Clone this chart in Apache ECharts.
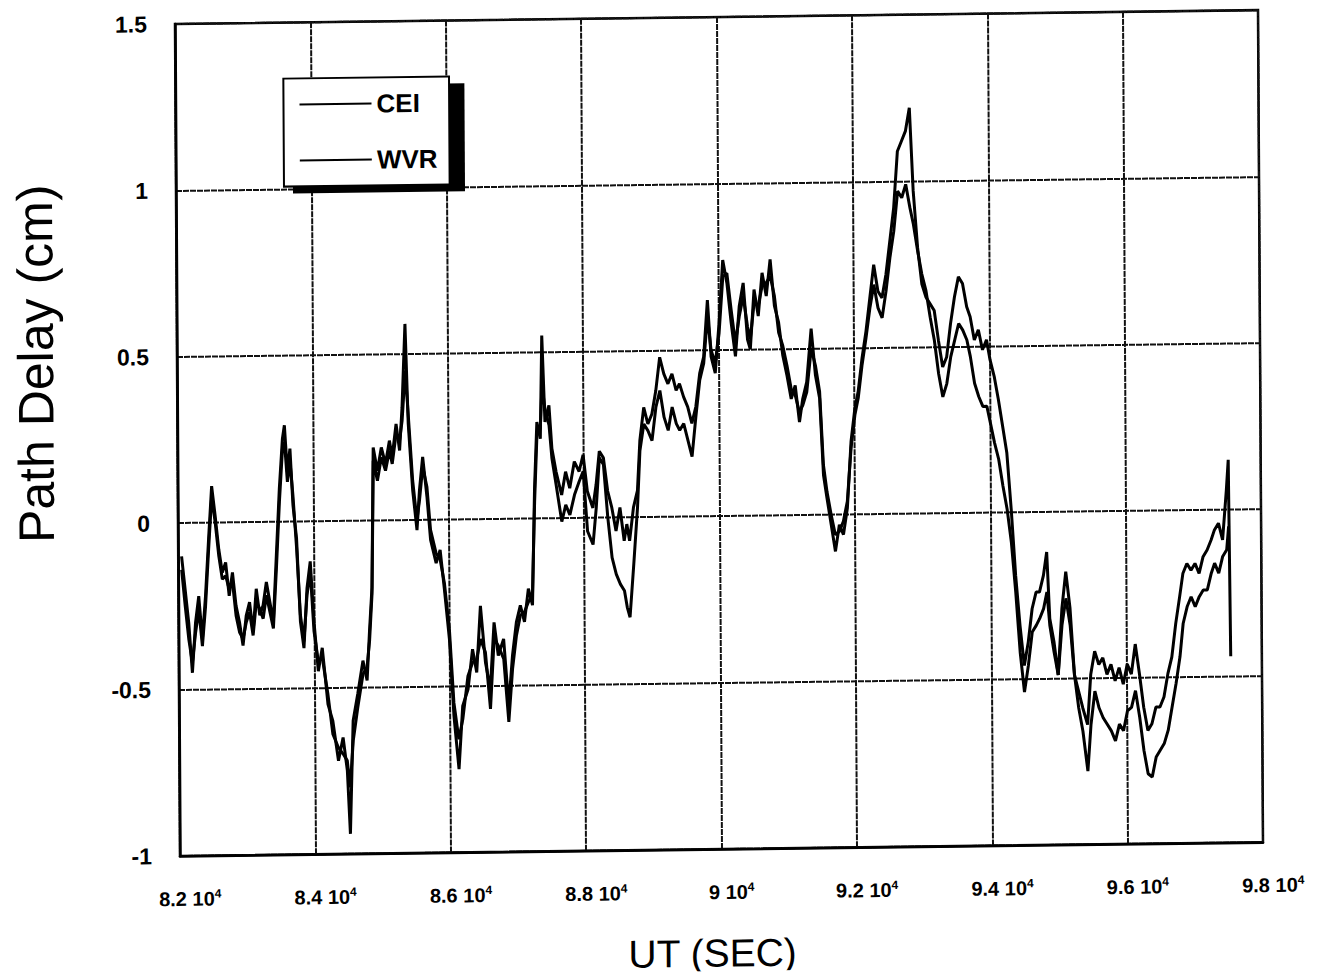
<!DOCTYPE html>
<html><head><meta charset="utf-8">
<script src="https://cdn.jsdelivr.net/npm/echarts@6/dist/echarts.min.js"></script>
<style>
html,body{margin:0;padding:0;background:#fff;overflow:hidden}
#wrap{width:1317px;height:978px;transform-origin:178px 524px;transform:matrix(1,-0.0128,0.006,1,0,0)}
#chart{width:1317px;height:978px}
</style></head><body><div id="wrap"><div id="chart"></div></div>
<script>
// UT seconds
const times = [82050,82100,82150,82200,82250,82300,82350,82400,82450,82500,82550,82600,82650,82700,82750,82800,82850,82900,82950,83000,
83050,83100,83150,83200,83250,83300,83350,83400,83450,83500,83550,83580,83620,83660,83700,83750,83800,83850,83900,83950,
84000,84060,84120,84200,84270,84350,84420,84480,84520,84570,84640,84720,84780,84820,84860,84890,84950,85010,85070,85130,
85170,85230,85280,85320,85370,85410,85470,85530,85570,85620,85680,85730,85810,85870,85930,86000,86060,86130,86190,86270,
86340,86400,86460,86530,86600,86660,86720,86800,86870,86930,86990,87050,87110,87170,87230,87270,87310,87360,87390,87430,
87490,87530,87590,87670,87730,87790,87860,87930,87990,88050,88130,88180,88230,88290,88350,88410,88470,88530,88590,88630,
88670,88730,88790,88830,88890,88950,89010,89070,89130,89190,89250,89310,89370,89420,89480,89540,89600,89660,89720,89780,
89840,89890,89950,90010,90070,90130,90190,90250,90310,90370,90430,90470,90530,90590,90650,90710,90770,90830,90890,90950,
91010,91070,91130,91190,91240,91300,91370,91430,91490,91540,91590,91650,91710,91770,91830,91890,91950,92010,92060,92120,
92180,92240,92300,92360,92420,92480,92540,92600,92660,92720,92780,92840,92890,92950,93010,93070,93130,93190,93250,93310,
93370,93430,93490,93550,93610,93670,93720,93780,93840,93900,93960,94010,94070,94130,94190,94250,94310,94370,94430,94490,
94550,94610,94670,94720,94780,94830,94870,94930,94990,95050,95110,95170,95230,95290,95350,95420,95470,95530,95590,95650,
95710,95770,95830,95890,95950,96010,96070,96130,96190,96250,96310,96370,96430,96490,96550,96610,96670,96730,96790,96840,
96900,96960,97020,97080,97140,97200,97260,97310,97370,97430,97490,97520,97540];

// path delay (cm)
const cei = [-0.10,-0.20,-0.30,-0.45,-0.30,-0.22,-0.35,-0.22,-0.05,0.11,0.02,-0.08,-0.15,-0.12,-0.22,-0.15,-0.25,-0.30,-0.37,-0.28,
-0.24,-0.33,-0.20,-0.28,-0.25,-0.18,-0.24,-0.30,-0.10,0.10,0.25,0.29,0.15,0.22,0.05,-0.05,-0.30,-0.38,-0.20,-0.12,
-0.30,-0.45,-0.38,-0.55,-0.60,-0.72,-0.65,-0.75,-0.94,-0.60,-0.52,-0.42,-0.48,-0.33,-0.20,0.22,0.15,0.22,0.17,0.24,
0.19,0.29,0.21,0.34,0.59,0.29,0.09,-0.03,0.09,0.19,0.07,-0.06,-0.13,-0.09,-0.21,-0.36,-0.59,-0.75,-0.56,-0.51,
-0.39,-0.46,-0.26,-0.43,-0.51,-0.31,-0.41,-0.36,-0.56,-0.41,-0.31,-0.26,-0.31,-0.21,-0.26,0.09,0.29,0.24,0.55,0.29,
0.34,0.21,0.14,0.07,0.14,0.09,0.17,0.14,0.19,0.08,0.03,0.10,0.20,0.18,0.08,0.03,-0.04,0.03,-0.07,-0.02,
-0.07,0.03,0.08,0.23,0.33,0.28,0.31,0.38,0.48,0.43,0.40,0.43,0.38,0.40,0.36,0.33,0.28,0.33,0.43,0.48,
0.65,0.48,0.43,0.58,0.77,0.70,0.58,0.48,0.63,0.70,0.53,0.50,0.68,0.60,0.73,0.66,0.77,0.63,0.58,0.48,
0.42,0.35,0.39,0.28,0.35,0.40,0.56,0.42,0.35,0.12,0.05,-0.03,-0.11,-0.03,-0.06,0.02,0.22,0.32,0.37,0.47,
0.55,0.65,0.75,0.67,0.65,0.72,0.82,0.92,1.09,1.12,1.15,1.22,0.97,0.80,0.69,0.65,0.63,0.61,0.52,0.44,
0.47,0.57,0.65,0.71,0.69,0.62,0.59,0.52,0.55,0.49,0.52,0.46,0.41,0.34,0.26,0.18,0.01,-0.19,-0.34,-0.46,
-0.39,-0.29,-0.24,-0.24,-0.19,-0.12,-0.32,-0.39,-0.49,-0.29,-0.18,-0.29,-0.49,-0.54,-0.59,-0.64,-0.49,-0.42,-0.46,-0.44,
-0.49,-0.46,-0.51,-0.47,-0.52,-0.46,-0.49,-0.40,-0.49,-0.59,-0.66,-0.64,-0.59,-0.59,-0.56,-0.49,-0.44,-0.34,-0.26,-0.19,
-0.16,-0.18,-0.16,-0.19,-0.14,-0.12,-0.09,-0.06,-0.04,-0.09,0.06,0.15,-0.44];

const wvr = [-0.14,-0.25,-0.35,-0.42,-0.33,-0.26,-0.37,-0.25,-0.08,0.08,0.00,-0.10,-0.17,-0.16,-0.20,-0.18,-0.28,-0.33,-0.35,-0.30,
-0.27,-0.34,-0.24,-0.26,-0.29,-0.22,-0.27,-0.32,-0.14,0.06,0.22,0.24,0.12,0.18,0.08,-0.08,-0.28,-0.36,-0.22,-0.15,
-0.33,-0.42,-0.41,-0.52,-0.64,-0.68,-0.70,-0.72,-0.80,-0.66,-0.56,-0.46,-0.44,-0.36,-0.22,0.18,0.12,0.19,0.15,0.21,
0.17,0.26,0.24,0.30,0.45,0.32,0.12,0.00,0.06,0.16,0.10,-0.03,-0.10,-0.12,-0.19,-0.33,-0.55,-0.66,-0.60,-0.47,
-0.43,-0.42,-0.36,-0.40,-0.57,-0.36,-0.38,-0.42,-0.61,-0.45,-0.35,-0.29,-0.28,-0.25,-0.23,0.05,0.25,0.27,0.40,0.33,
0.28,0.18,0.10,-0.01,0.04,0.01,0.07,0.11,0.14,-0.04,-0.08,0.03,0.18,0.16,0.00,-0.12,-0.17,-0.20,-0.22,-0.27,
-0.30,-0.14,0.03,0.20,0.28,0.26,0.23,0.33,0.38,0.30,0.26,0.33,0.28,0.26,0.28,0.23,0.18,0.30,0.41,0.46,
0.60,0.50,0.46,0.55,0.72,0.73,0.62,0.52,0.60,0.66,0.57,0.53,0.64,0.63,0.69,0.70,0.72,0.66,0.55,0.51,
0.45,0.38,0.36,0.31,0.33,0.37,0.50,0.45,0.37,0.15,0.07,0.00,-0.06,-0.05,-0.02,0.04,0.20,0.30,0.35,0.45,
0.53,0.62,0.69,0.62,0.59,0.67,0.77,0.85,0.97,0.95,0.99,0.92,0.87,0.79,0.72,0.67,0.59,0.52,0.42,0.35,
0.39,0.47,0.52,0.57,0.55,0.52,0.47,0.39,0.35,0.32,0.32,0.27,0.21,0.16,0.08,0.01,-0.09,-0.24,-0.42,-0.54,
-0.46,-0.36,-0.34,-0.32,-0.29,-0.24,-0.34,-0.42,-0.49,-0.34,-0.26,-0.34,-0.49,-0.59,-0.66,-0.78,-0.64,-0.54,-0.59,-0.62,
-0.64,-0.66,-0.69,-0.64,-0.66,-0.60,-0.59,-0.54,-0.62,-0.72,-0.79,-0.80,-0.74,-0.72,-0.70,-0.66,-0.59,-0.52,-0.44,-0.34,
-0.29,-0.26,-0.29,-0.26,-0.24,-0.24,-0.19,-0.16,-0.19,-0.14,-0.12,-0.05,null];

const xTickValues = [82000,84000,86000,88000,90000,92000,94000,96000,98000];
const xTickMantissa = ['8.2','8.4','8.6','8.8','9','9.2','9.4','9.6','9.8'];
const yTickValues = [-1,-0.5,0,0.5,1,1.5];
const yTickLabels = ['-1','-0.5','0','0.5','1','1.5'];

const FONT = '"Liberation Sans", Arial, Helvetica, sans-serif';
const pair = arr => times.map((t,i)=>[t, arr[i]]);

const chart = echarts.init(document.getElementById('chart'), null, {renderer:'svg'});
chart.setOption({
  animation:false,
  backgroundColor:'#fff',
  grid:{left:178,right:56,top:24,bottom:122,show:true,borderColor:'#000',borderWidth:2.5,backgroundColor:'transparent'},
  xAxis:{type:'value',min:82000,max:98000,interval:2000,
    axisLine:{show:true,onZero:false,lineStyle:{color:'#000',width:2.5}},
    axisTick:{show:false},
    splitLine:{show:true,lineStyle:{color:'#111',width:2,type:[6,1]}},
    axisLabel:{margin:32,padding:[0,0,0,20],
      formatter:v=>{const i=xTickValues.indexOf(v);return '{a|'+(i>=0?xTickMantissa[i]:'')+' 10}{s|4}';},
      rich:{a:{fontFamily:FONT,fontSize:20,fontWeight:'bold',color:'#000',lineHeight:22},
            s:{fontFamily:FONT,fontSize:12,fontWeight:'bold',color:'#000',verticalAlign:'top',lineHeight:12}}}
  },
  yAxis:{type:'value',min:-1,max:1.5,interval:0.5,
    axisLine:{show:true,onZero:false,lineStyle:{color:'#000',width:2.5}},
    axisTick:{show:false},
    splitLine:{show:true,lineStyle:{color:'#111',width:2,type:[6,1]}},
    axisLabel:{margin:28,fontFamily:FONT,fontSize:23,fontWeight:'bold',color:'#000',
      formatter:v=>{const i=yTickValues.findIndex(x=>Math.abs(x-v)<1e-9);return i>=0?yTickLabels[i]:'';}}
  },
  legend:{data:['CEI','WVR'],orient:'vertical',left:286,top:80,padding:[13,12,13,16],
    itemWidth:72,itemHeight:2,itemGap:30,itemTextGap:20,icon:'rect',
    backgroundColor:'#fff',borderColor:'#000',borderWidth:2,borderRadius:0,z:10,
    textStyle:{fontFamily:FONT,fontSize:26,fontWeight:'bold',color:'#000',lineHeight:26}},
  graphic:[
    {type:'rect',z:5,shape:{x:295,y:87,width:172,height:108},style:{fill:'#000'}},
    {type:'text',x:37,y:362,rotation:Math.PI/2,z:5,
      style:{text:'Path Delay (cm)',font:'50px '+FONT,fill:'#000',textAlign:'center',textVerticalAlign:'middle'}},
    {type:'text',x:710,y:960,z:5,
      style:{text:'UT (SEC)',font:'39px '+FONT,fill:'#000',textAlign:'center',textVerticalAlign:'middle'}}
  ],
  series:[
    {name:'CEI',type:'line',data:pair(cei),showSymbol:false,symbol:'none',lineStyle:{color:'#000',width:3},itemStyle:{color:'#000'},z:3},
    {name:'WVR',type:'line',data:pair(wvr),showSymbol:false,symbol:'none',lineStyle:{color:'#000',width:3},itemStyle:{color:'#000'},z:3}
  ]
});
</script></body></html>
